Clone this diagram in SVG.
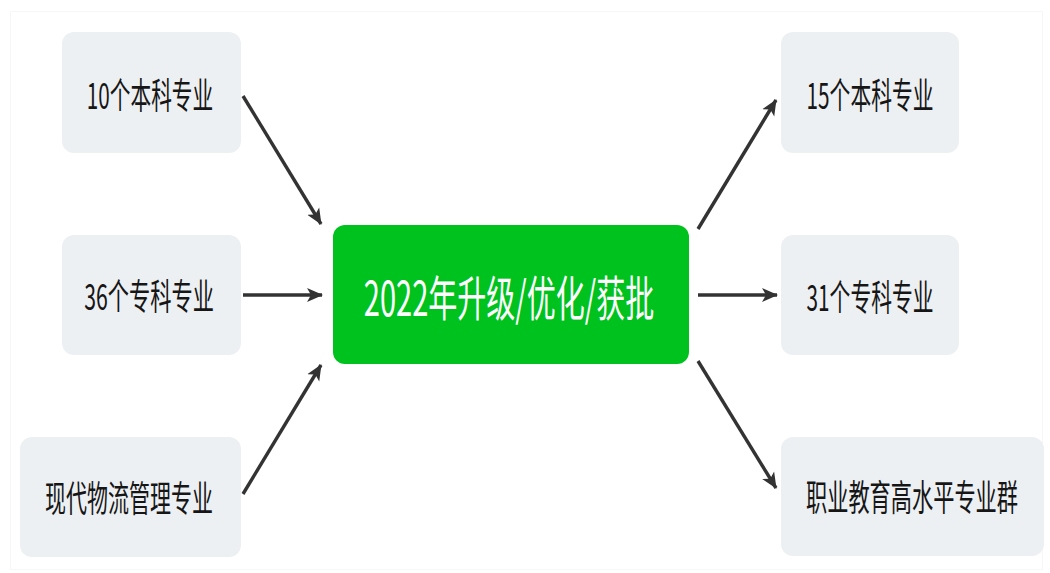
<svg xmlns="http://www.w3.org/2000/svg" width="1050" height="573" viewBox="0 0 1050 573">
  <style>
    .box { fill: #edf0f3; }
    .center { fill: #00c21f; }
    .lbl { font-family: "Noto Sans CJK SC", "Noto Sans", sans-serif; font-size: 36px; fill: #161616; dominant-baseline: central; text-anchor: middle; }
    .clbl { font-family: "Noto Sans CJK SC", "Noto Sans", sans-serif; font-size: 48px; fill: #ffffff; dominant-baseline: central; text-anchor: middle; }
    .conn { stroke: #333333; stroke-width: 3.4; fill: none; marker-end: url(#arrow); }
  </style>
  <defs>
    <marker id="arrow" markerWidth="18" markerHeight="16" refX="15" refY="8" orient="auto" markerUnits="userSpaceOnUse">
      <path d="M0,1 L16,8 L0,15 L4,8 Z" fill="#333333"/>
    </marker>
  </defs>
  <rect x="0" y="0" width="1050" height="573" fill="#ffffff"/>
  <rect x="10.5" y="11.5" width="1032" height="558" fill="none" stroke="#f7f7f7" stroke-width="1"/>

  <g id="connectors">
    <line class="conn" x1="243" y1="96" x2="321" y2="224"/>
    <line class="conn" x1="243" y1="295" x2="322" y2="295"/>
    <line class="conn" x1="243" y1="494" x2="321" y2="365"/>
    <line class="conn" x1="698" y1="229" x2="776" y2="100"/>
    <line class="conn" x1="698" y1="295" x2="777" y2="295"/>
    <line class="conn" x1="698" y1="361" x2="776" y2="488"/>
  </g>

  <g id="node-left-1">
    <rect class="box" x="62" y="32" width="179" height="121" rx="12"/>
    <text class="lbl" transform="translate(150,93) scale(0.575,1)">10个本科专业</text>
  </g>
  <g id="node-left-2">
    <rect class="box" x="62" y="235" width="179" height="120" rx="12"/>
    <text class="lbl" transform="translate(149,295) scale(0.59,1)">36个专科专业</text>
  </g>
  <g id="node-left-3">
    <rect class="box" x="20" y="437" width="221" height="120" rx="12"/>
    <text class="lbl" transform="translate(129,496) scale(0.583,1)">现代物流管理专业</text>
  </g>
  <g id="node-center">
    <rect class="center" x="333" y="225" width="356" height="139" rx="12"/>
    <text class="clbl" transform="translate(509,295) scale(0.605,1)">2022年升级/优化/获批</text>
  </g>
  <g id="node-right-1">
    <rect class="box" x="781" y="32" width="178" height="121" rx="12"/>
    <text class="lbl" transform="translate(870,93) scale(0.577,1)">15个本科专业</text>
  </g>
  <g id="node-right-2">
    <rect class="box" x="781" y="235" width="178" height="120" rx="12"/>
    <text class="lbl" transform="translate(870,295) scale(0.577,1)">31个专科专业</text>
  </g>
  <g id="node-right-3">
    <rect class="box" x="781" y="437" width="263" height="119" rx="12"/>
    <text class="lbl" transform="translate(912,496) scale(0.589,1)">职业教育高水平专业群</text>
  </g>
</svg>
